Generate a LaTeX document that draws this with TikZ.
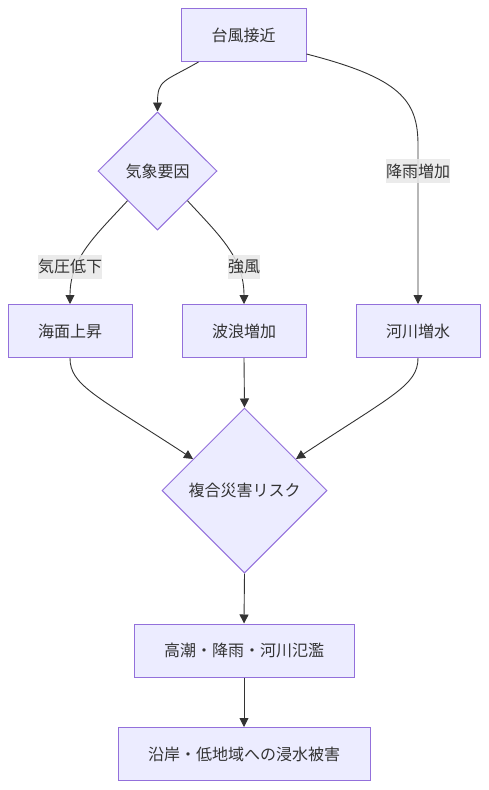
\documentclass[tikz,border=0pt]{standalone}
\usepackage{fontspec}
\setmainfont{Noto Sans CJK JP}
\usetikzlibrary{shapes.geometric,arrows.meta,calc}
\definecolor{nodefill}{HTML}{ECECFF}
\definecolor{nodeline}{HTML}{9370DB}
\definecolor{txt}{HTML}{333333}
\definecolor{lblbg}{HTML}{E8E8E8}
\begin{document}
\begin{tikzpicture}[x=1pt,y=-1pt,
  txtfont/.style={font=\fontsize{16}{19}\selectfont, text=txt},
  box/.style={draw=nodeline, fill=nodefill, line width=1pt, txtfont, minimum height=53pt, inner sep=0pt},
  dia/.style={diamond, draw=nodeline, fill=nodefill, line width=1pt, txtfont, inner sep=0pt},
  lbl/.style={fill=lblbg, fill opacity=0.85, text opacity=1, txtfont, inner xsep=0pt, inner ysep=0pt, minimum height=24pt},
  edge/.style={draw=txt, line width=0.9pt, -{Triangle[length=9pt,width=9pt]}}
]
\useasboundingbox (0,0) rectangle (488,790);

\node[box, minimum width=125pt] (t) at (243.5,35) {台風接近};
\node[dia, minimum width=119pt, minimum height=118pt] (k) at (157.5,171) {気象要因};
\node[box, minimum width=124pt] (a) at (70,331) {海面上昇};
\node[box, minimum width=124pt] (w) at (244,331) {波浪増加};
\node[box, minimum width=124pt] (h) at (418,331) {河川増水};
\node[dia, minimum width=165pt, minimum height=165pt] (r) at (244.5,490.5) {複合災害リスク};
\node[box, minimum width=220pt] (f) at (244,650.5) {高潮・降雨・河川氾濫};
\node[box, minimum width=252pt] (c) at (244,754) {沿岸・低地域への浸水被害};

% edges
\draw[edge] ($(t.south)+(-45,0)$) .. controls +(-35,20) and +(0,-32) .. (k.north);
\draw[edge] ($(t.east)+(0,19)$) .. controls (400,78) and (418,100) .. (418,145) -- (h.north);
\draw[edge] ($(k.west)!0.5!(k.south)$) .. controls (95,236) and (70,258) .. (a.north);
\draw[edge] ($(k.east)!0.5!(k.south)$) .. controls (220,236) and (244,258) .. (w.north);
\draw[edge] (a.south) .. controls (70,385) and (95,395) .. ($(r.north)!0.62!(r.west)$);
\draw[edge] (w.south) -- (r.north);
\draw[edge] (h.south) .. controls (418,385) and (393,395) .. ($(r.north)!0.62!(r.east)$);
\draw[edge] (r.south) -- (f.north);
\draw[edge] (f.south) -- (c.north);

% labels
\node[lbl] (l1) at (418,171) {降雨増加};
\node[lbl] (l2) at (70,266.5) {気圧低下};
\node[lbl] (l3) at (244,266.5) {強風};
\end{tikzpicture}
\end{document}
